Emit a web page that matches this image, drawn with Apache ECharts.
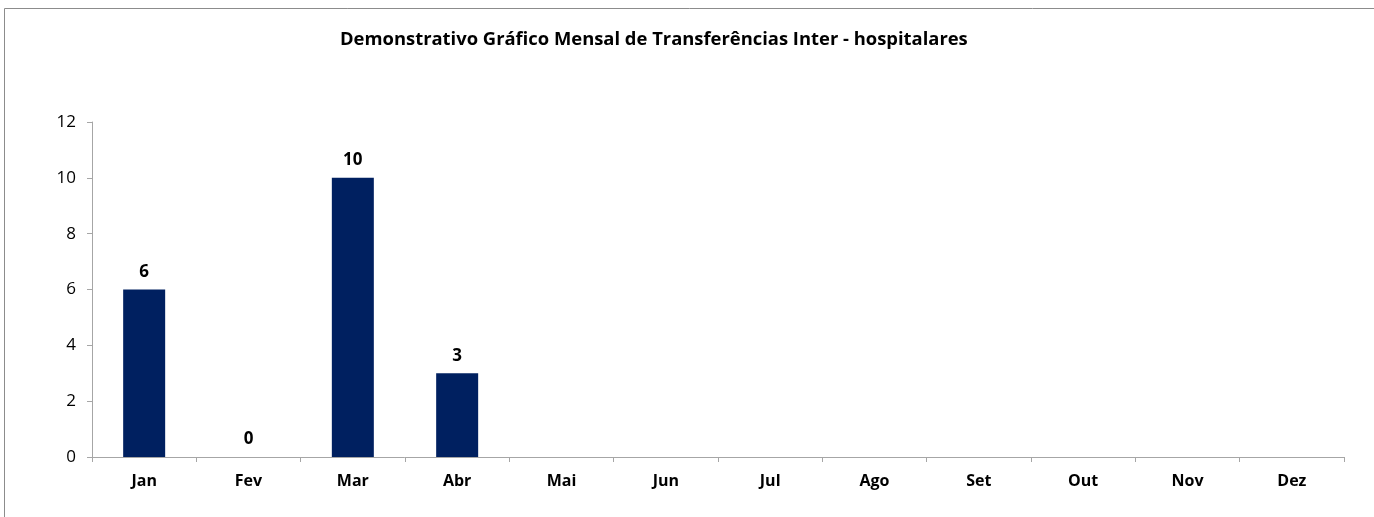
<!DOCTYPE html>
<html>
<head>
<meta charset="utf-8">
<script src="https://cdn.jsdelivr.net/npm/echarts@6/dist/echarts.min.js"></script>
<style>
  html, body { margin: 0; padding: 0; background: #fff; }
  #chart { width: 1374px; height: 517px; }
</style>
</head>
<body>
<div id="chart"></div>
<script>
const months = ['Jan', 'Fev', 'Mar', 'Abr', 'Mai', 'Jun', 'Jul', 'Ago', 'Set', 'Out', 'Nov', 'Dez'];
const transfers = [6, 0, 10, 3, null, null, null, null, null, null, null, null];
const yTicks = { min: 0, max: 12, interval: 2 };

const font = '"Open Sans", sans-serif';
const chart = echarts.init(document.getElementById('chart'));

chart.setOption({
  animation: false,
  textStyle: { fontFamily: font },
  title: {
    text: 'Demonstrativo Gráfico Mensal de Transferências Inter - hospitalares',
    left: 335,
    top: 26,
    textStyle: { fontSize: 18.4, fontWeight: 'bold', color: '#000', fontFamily: font }
  },
  graphic: [{
    type: 'rect',
    shape: { x: 4.5, y: 8.5, width: 1400, height: 600 },
    style: { fill: 'none', stroke: '#8c8c8c', lineWidth: 1 },
    silent: true
  }],
  grid: { left: 92, right: 30, top: 122, bottom: 60 },
  xAxis: {
    type: 'category',
    data: months,
    axisLine: { lineStyle: { color: '#a6a6a6' } },
    axisTick: { show: true, length: 5, alignWithLabel: false, lineStyle: { color: '#a6a6a6' } },
    axisLabel: { fontSize: 16, fontWeight: 'bold', color: '#000', margin: 16, fontFamily: font }
  },
  yAxis: {
    type: 'value',
    min: yTicks.min,
    max: yTicks.max,
    interval: yTicks.interval,
    splitLine: { show: false },
    axisLine: { show: true, lineStyle: { color: '#a6a6a6' } },
    axisTick: { show: true, length: 5, lineStyle: { color: '#a6a6a6' } },
    axisLabel: { fontSize: 17, color: '#000', margin: 16, fontFamily: font }
  },
  series: [{
    type: 'bar',
    data: transfers,
    barWidth: 42,
    itemStyle: { color: '#002060' },
    label: {
      show: true,
      position: 'top',
      distance: 9,
      fontSize: 17,
      fontWeight: 'bold',
      color: '#000',
      fontFamily: font
    }
  }]
});
</script>
</body>
</html>
